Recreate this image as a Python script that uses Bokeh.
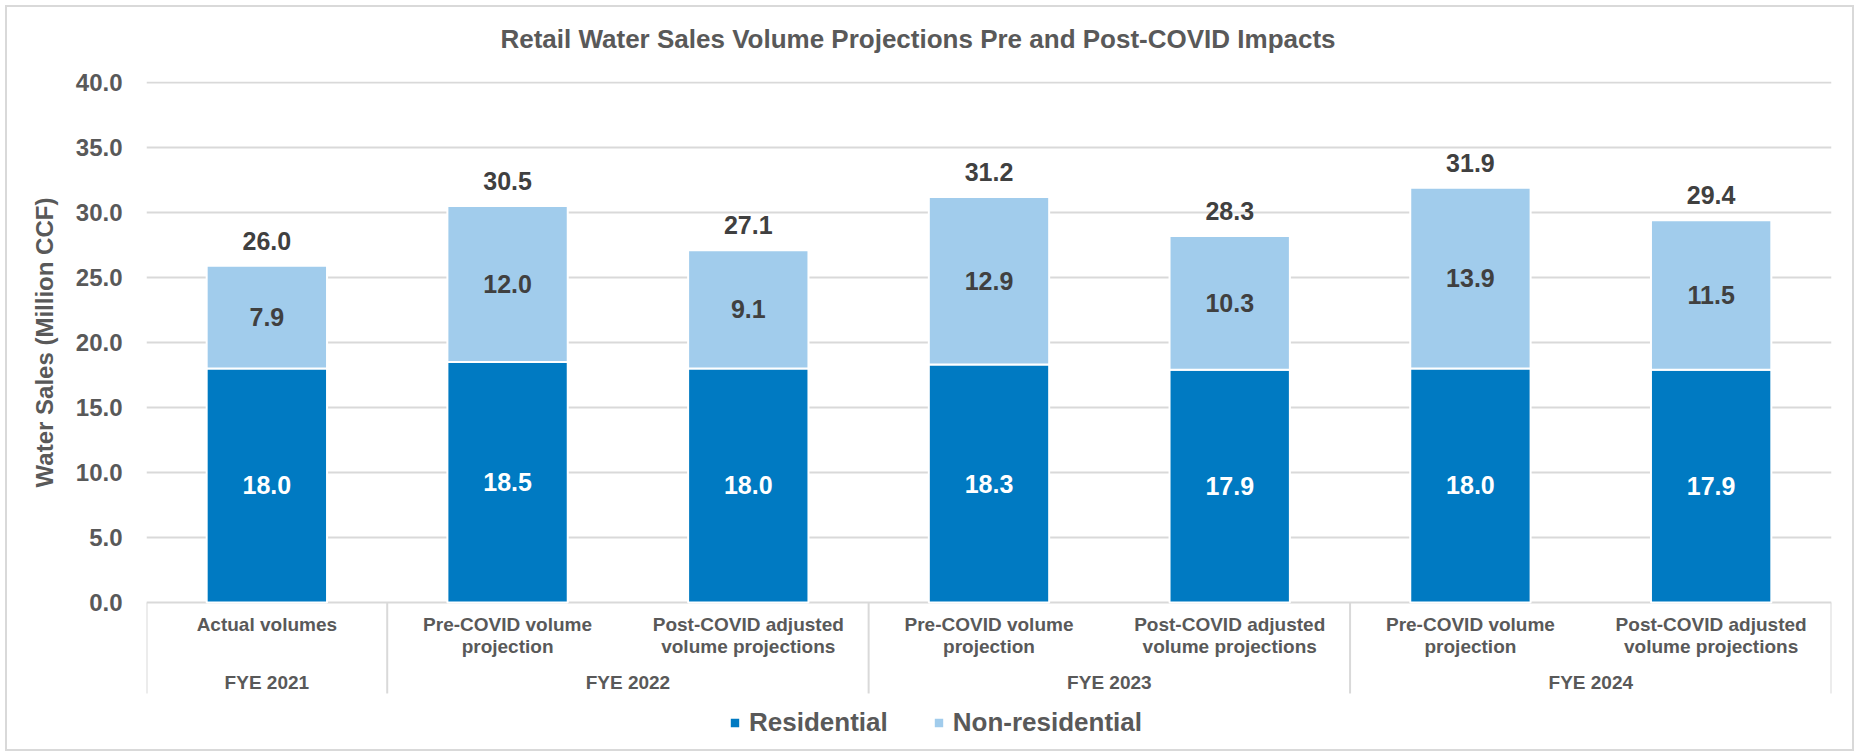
import math
from bokeh.plotting import figure
from bokeh.layouts import column, row
from bokeh.models import (FactorRange, Range1d, ColumnDataSource, FixedTicker,
                          PrintfTickFormatter, Legend, LegendItem)
from bokeh.core.properties import value
from bokeh.embed import file_html
from bokeh.resources import INLINE

# ---------------- data ----------------
title_text = "Retail Water Sales Volume Projections Pre and Post-COVID Impacts"
y_title = "Water Sales (Million CCF)"
years = ["FYE 2021", "FYE 2022", "FYE 2022", "FYE 2023", "FYE 2023", "FYE 2024", "FYE 2024"]
scenarios = ["Actual volumes",
             "Pre-COVID volume\nprojection",
             "Post-COVID adjusted\nvolume projections",
             "Pre-COVID volume\nprojection",
             "Post-COVID adjusted\nvolume projections",
             "Pre-COVID volume\nprojection",
             "Post-COVID adjusted\nvolume projections"]
residential = [18.0, 18.5, 18.0, 18.3, 17.9, 18.0, 17.9]
non_residential = [7.9, 12.0, 9.1, 12.9, 10.3, 13.9, 11.5]
totals = [26.0, 30.5, 27.1, 31.2, 28.3, 31.9, 29.4]
series = ["Residential", "Non-residential"]
colors = ["#007AC2", "#A1CCEC"]
y_ticks = [0, 5, 10, 15, 20, 25, 30, 35, 40]

# ---------------- styling ----------------
FONT = "Liberation Sans"
GRAY = "#595959"
DARK = "#404040"
GRID = "#D9D9D9"

factors = list(zip(years, scenarios))
groups = []
for g in years:
    if g not in groups:
        groups.append(g)

TOTAL_W = 1845
TITLE_H = 60
YT_W = 53
MAIN_H = 682
TOP_B = 14
y_range = Range1d(-11.31, 40.077)

# ---- title strip ----
tf = figure(width=TOTAL_W, height=TITLE_H, x_range=Range1d(0, TOTAL_W), y_range=Range1d(0, TITLE_H),
            x_axis_location=None, y_axis_location=None, min_border=0,
            output_backend="svg", toolbar_location=None)
tf.outline_line_color = None
tf.grid.visible = False
tf.text(x=[910.5], y=[29], text=[title_text], text_font=value(FONT), text_font_size="26px",
        text_font_style="bold", text_color=GRAY, text_align="center", text_baseline="middle")

# ---- y-axis title strip ----
yf = figure(width=YT_W, height=MAIN_H, x_range=Range1d(0, YT_W), y_range=y_range,
            x_axis_location=None, y_axis_location=None,
            min_border_left=0, min_border_right=0, min_border_top=TOP_B, min_border_bottom=0,
            output_backend="svg", toolbar_location=None)
yf.outline_line_color = None
yf.grid.visible = False
yf.text(x=[37], y=[(y_ticks[0] + y_ticks[-1]) / 2], text=[y_title], angle=math.pi / 2,
        text_font=value(FONT), text_font_size="24px", text_font_style="bold",
        text_color=GRAY, text_align="center", text_baseline="middle")

# ---- main chart ----
p = figure(width=TOTAL_W - YT_W, height=MAIN_H,
           x_range=FactorRange(*factors, group_padding=0, factor_padding=0, range_padding=0),
           y_range=y_range,
           x_axis_location=None,
           min_border_left=86, min_border_right=21, min_border_top=TOP_B, min_border_bottom=0,
           output_backend="svg", toolbar_location=None)
p.outline_line_color = None

src = ColumnDataSource(dict(x=factors, Residential=residential, **{"Non-residential": non_residential}))
rs = p.vbar_stack(series, x="x", width=0.5, fill_color=colors, line_color="white",
                  line_width=2, source=src)

p.yaxis.ticker = FixedTicker(ticks=y_ticks)
p.yaxis.formatter = PrintfTickFormatter(format="%.1f")
p.yaxis.axis_line_color = None
p.yaxis.major_tick_line_color = None
p.yaxis.minor_tick_line_color = None
p.yaxis.major_tick_out = 0
p.yaxis.major_tick_in = 0
p.yaxis.major_label_standoff = 24
p.yaxis.major_label_text_font = FONT
p.yaxis.major_label_text_font_size = "24px"
p.yaxis.major_label_text_font_style = "bold"
p.yaxis.major_label_text_color = GRAY
p.xgrid.visible = False
p.ygrid.grid_line_color = GRID
p.ygrid.grid_line_width = 2

lab = ColumnDataSource(dict(
    x=factors,
    res_y=[r / 2 for r in residential],
    non_y=[r + n / 2 for r, n in zip(residential, non_residential)],
    top_y=[r + n for r, n in zip(residential, non_residential)],
    res_t=[f"{v:.1f}" for v in residential],
    non_t=[f"{v:.1f}" for v in non_residential],
    tot_t=[f"{v:.1f}" for v in totals],
    line1=[s.split("\n")[0] for s in scenarios],
    line2=[s.split("\n")[1] if "\n" in s else "" for s in scenarios],
))
common = dict(text_font=value(FONT), text_font_style="bold", text_align="center",
              text_baseline="middle", source=lab)
p.text(x="x", y="res_y", text="res_t", text_color="white", text_font_size="25px", **common)
p.text(x="x", y="non_y", text="non_t", text_color=DARK, text_font_size="25px", **common)
p.text(x="x", y="top_y", text="tot_t", text_color=DARK, text_font_size="25px",
       y_offset=-25, **common)

# two-level category axis drawn below the zero line
p.text(x="x", y=-1.72, text="line1", text_color=GRAY, text_font_size="19px", **common)
p.text(x="x", y=-3.41, text="line2", text_color=GRAY, text_font_size="19px", **common)
gsrc = ColumnDataSource(dict(x=groups))
p.text(x="x", y=-6.12, text="x", text_color=GRAY, text_font_size="19px",
       text_font=value(FONT), text_font_style="bold", text_align="center",
       text_baseline="middle", source=gsrc)

sep_x = []
for g in groups:
    first = next(f for f in factors if f[0] == g)
    sep_x.append((first[0], first[1], -0.5))
sep_x.append((factors[-1][0], factors[-1][1], 0.5))
ssrc = ColumnDataSource(dict(x=sep_x))
p.segment(x0="x", x1="x", y0=0, y1=-7.0, line_color=GRID, line_width=2, source=ssrc)

legend = Legend(items=[LegendItem(label=s, renderers=[r]) for s, r in zip(series, rs)],
                location=(582, 11), orientation="horizontal",
                glyph_width=13, glyph_height=13, label_standoff=8, spacing=44,
                padding=4, margin=0, border_line_color=None, background_fill_alpha=0,
                label_text_font=FONT, label_text_font_size="26px",
                label_text_font_style="bold", label_text_color=GRAY)
p.add_layout(legend)

layout = column(tf, row(yf, p, spacing=0), spacing=0, margin=(7, 0, 0, 7))
layout.styles = {"outline": "2px solid #D9D9D9", "outline-offset": "0px"}

open("out.html", "w").write(file_html(layout, INLINE))
